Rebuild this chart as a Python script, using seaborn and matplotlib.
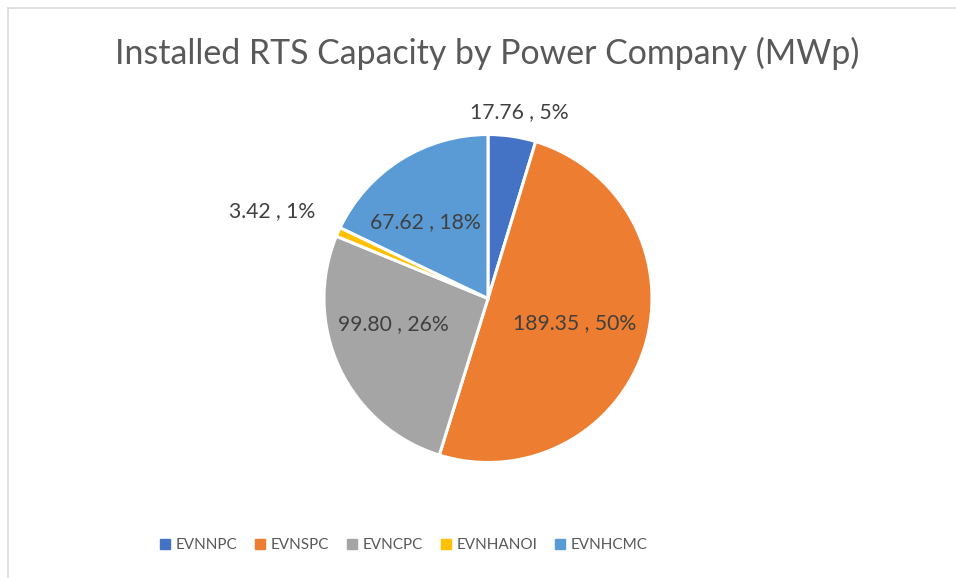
import seaborn as sns
import matplotlib.pyplot as plt
from matplotlib.lines import Line2D
import numpy as np

companies = ["EVNNPC", "EVNSPC", "EVNCPC", "EVNHANOI", "EVNHCMC"]
capacity = [17.76, 189.35, 99.80, 3.42, 67.62]
colors = ["#4472C4", "#ED7D31", "#A5A5A5", "#FFC000", "#5B9BD5"]

# label placement (fraction of radius, angle nudge in degrees) like Excel's best fit
label_dist = [1.15, 0.55, 0.60, 1.42, 0.60]
label_nudge = [-1, 1, -10, 2, 7]

sns.set_theme(style="white")
plt.rcParams["font.family"] = ["Lato", "DejaVu Sans"]

W, H = 956, 578
fig = plt.figure(figsize=(W / 100, H / 100), dpi=100)

cx, cy, r = 488, 298.5, 164
ax = fig.add_axes([(cx - r) / W, 1 - (cy + r) / H, 2 * r / W, 2 * r / H])

wedges, _ = ax.pie(capacity, colors=sns.color_palette(colors), startangle=90,
                   counterclock=False, radius=1,
                   wedgeprops=dict(edgecolor="white", linewidth=2.2))
ax.set_xlim(-1, 1)
ax.set_ylim(-1, 1)
ax.set_aspect("equal")
ax.axis("off")

total = sum(capacity)
for w, v, d, n in zip(wedges, capacity, label_dist, label_nudge):
    ang = np.deg2rad((w.theta1 + w.theta2) / 2 + n)
    ax.text(d * np.cos(ang), d * np.sin(ang), f"{v:.2f} , {v / total * 100:.0f}%",
            ha="center", va="center", fontsize=15.2, color="#404040")

fig.text(0.5095, 1 - 53 / H, "Installed RTS Capacity by Power Company (MWp)",
         ha="center", va="center", fontsize=24.4, color="#595959")

handles = [Line2D([], [], marker="s", linestyle="none", markersize=7,
                  markerfacecolor=c, markeredgecolor=c) for c in colors]
fig.legend(handles, companies, loc="center", bbox_to_anchor=(0.422, 1 - 545 / H),
           ncol=5, frameon=False, labelcolor="#595959", fontsize=11.0,
           handletextpad=0.3, columnspacing=1.08, handlelength=0.8)

# chart area border (only top and left edges show in the crop)
fig.add_artist(Line2D([7.5 / W, 7.5 / W], [0, 1 - 7.5 / H], color="#D9D9D9", lw=1.2))
fig.add_artist(Line2D([7.5 / W, 1], [1 - 7.5 / H, 1 - 7.5 / H], color="#D9D9D9", lw=1.2))

fig.savefig("out.png", dpi=100, facecolor="white")
